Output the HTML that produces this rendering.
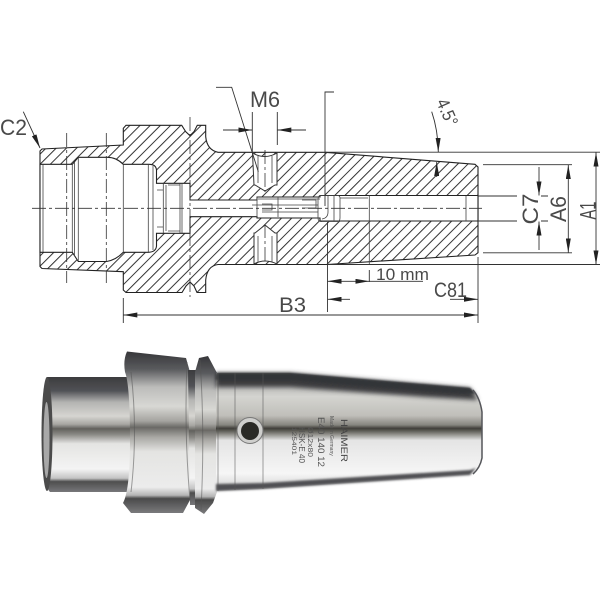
<!DOCTYPE html>
<html><head><meta charset="utf-8">
<style>html,body{margin:0;padding:0;background:#fff}svg{display:block}
text{font-family:"Liberation Sans",sans-serif;fill:#4a4a4a}</style></head>
<body>
<svg xmlns="http://www.w3.org/2000/svg" width="600" height="600" viewBox="0 0 600 600">
<defs>
<filter id="b0" x="-5%" y="-5%" width="110%" height="110%"><feGaussianBlur stdDeviation=".35"/></filter>
<filter id="b1" x="-5%" y="-30%" width="110%" height="160%"><feGaussianBlur stdDeviation="1"/></filter>
<filter id="b3" x="-5%" y="-40%" width="110%" height="180%"><feGaussianBlur stdDeviation="2.5"/></filter>
<pattern id="hh" width="7.2" height="7.2" patternUnits="userSpaceOnUse" patternTransform="rotate(-45)">
<rect width="7.2" height="7.2" fill="#fff"/><rect x="0" y="0" width="7.2" height="1" fill="#333"/>
</pattern>
<linearGradient id="g" x1="0" y1="0" x2="0" y2="1">
<stop offset="0" stop-color="#3c3c3e"/><stop offset=".12" stop-color="#515256"/><stop offset=".22" stop-color="#b4b4b2"/><stop offset=".34" stop-color="#d6d5d1"/><stop offset=".41" stop-color="#a8a7a3"/><stop offset=".45" stop-color="#62615d"/><stop offset=".5" stop-color="#8a8985"/><stop offset=".58" stop-color="#e4e4e2"/><stop offset=".8" stop-color="#f4f4f4"/><stop offset=".88" stop-color="#c4c4c4"/><stop offset=".91" stop-color="#4e4e4e"/><stop offset="1" stop-color="#77777a"/>
</linearGradient>
<linearGradient id="g2" x1="0" y1="0" x2="0" y2="1">
<stop offset="0" stop-color="#37373a"/><stop offset=".11" stop-color="#5a5b5e"/><stop offset=".22" stop-color="#bcbcba"/><stop offset=".34" stop-color="#d8d8d4"/><stop offset=".43" stop-color="#a5a4a0"/><stop offset=".47" stop-color="#6a6965"/><stop offset=".53" stop-color="#a8a7a3"/><stop offset=".62" stop-color="#e4e4e2"/><stop offset=".84" stop-color="#ececec"/><stop offset=".89" stop-color="#b4b4b4"/><stop offset=".91" stop-color="#4a4a4a"/><stop offset="1" stop-color="#7a7a7c"/>
</linearGradient>
<linearGradient id="t" x1="0" y1="0" x2="0" y2="1">
<stop offset="0" stop-color="#9a9a9a"/><stop offset=".2" stop-color="#d4d4d0"/><stop offset=".36" stop-color="#c0bfba"/><stop offset=".44" stop-color="#86857f"/><stop offset=".47" stop-color="#3f3e38"/><stop offset=".5" stop-color="#6e6d66"/><stop offset=".57" stop-color="#e4e4e4"/><stop offset=".85" stop-color="#f6f6f6"/><stop offset="1" stop-color="#d0d0d0"/>
</linearGradient>
<marker id="a" viewBox="0 0 14 5" markerWidth="14" markerHeight="5" refX="14" refY="2.5" orient="auto-start-reverse" markerUnits="userSpaceOnUse"><path d="M0 0L14 2.5L0 5Z" fill="#222"/></marker>
</defs>

<g filter="url(#b0)">
<!-- section -->
<path d="M40 151L42 149L123.3 145V128.3L126 125.3H181.7L185.7 131.7L190 135.7L194 131.7L197.3 125.3H205.7V136.7Q207 150 218 152.3H325L475 164.3L478 167V252.7L475 255L327 264.5H218Q207 266 205.7 280V292.5H197L194 286L190 282L186 286L182 292.5H126L123.3 290V271.7L42 268.5L40 266.5Z" fill="url(#hh)" stroke="#222" stroke-width="1.1"/>
<!-- bore -->
<path d="M40 164.3H72.3L78.3 157.3H106.7Q116 157 123.3 164.3H148.3Q156 164 156.5 170V183.3H190V200H257V197H320V195.5H478V221H320V218H257V216.7H190V233.3H156.5V246Q156 252 148.3 252.3H123.3Q116 260 106.7 261.5H78.3L72.3 252.3H40Z" fill="#fff" stroke="#222" stroke-width="1.1"/>
<!-- threaded holes -->
<path d="M252.5 153Q265 160 277 153V185H275L265 191L255 185H254Z" fill="#fff" stroke="#333" stroke-width="1"/>
<path d="M254 264Q265 258 277 264V233H275L265 225L255 233H254Z" fill="#fff" stroke="#333" stroke-width="1"/>
<g stroke="#444" stroke-width=".8" fill="none">
<path d="M43 164.5V252M72.3 164.5V252M74.5 162V256M78.3 157.5V261M123.3 164.5V252M148.3 164.5V252M153 166V250"/>
<path d="M163.3 183.5V233M166 185V231M168 185H180M168 231H180M180 183.5V233M182 183.5V233M157 190H163M157 227H163"/>
<path d="M257 197V217M278 197V217M258 199H320M252 205H318M262 212H318M262 204H272V210H262M302 200H316V208H302"/>
<path d="M320 195.5Q318 196 318 200V218Q318 222 322 221.5H338Q340 221 340 218V198Q340 196 338 195.5ZM334 196V221M328 196V212Q328 218 322 219M340 198H368M369.3 195.5V221M466 196V221"/>
<path d="M258 156V183M272 156V183M258 236V262M272 236V262"/>
<path d="M369.3 221V264"/>
</g>
<!-- centre lines -->
<g stroke="#333" stroke-width=".8" fill="none" stroke-dasharray="14 3 3 3">
<path d="M32 208.3H482"/>
<path d="M66.7 133V283M106.3 133V283M190 117V297M265 150V192M265 224V264"/>
</g>
<!-- dimension lines -->
<g stroke="#333" stroke-width=".9" fill="none">
<path d="M23.3 111.7L40 148" marker-end="url(#a)"/>
<path d="M216 87.3H231.7L258.3 171.7"/>
<path d="M252.3 112V152M277.3 112V145"/>
<path d="M223 130H252.3" marker-end="url(#a)"/>
<path d="M306 130H277.3" marker-end="url(#a)"/>
<path d="M334 92H325V206"/>
<path d="M327.5 222V312"/>
<path d="M325 152.2H600M327 264.5H600"/>
<path d="M483 164.7H572M483 252.8H572"/>
<path d="M478 196H517M541 196H548M478 221H517M541 221H548"/>
<path d="M539 167V195.5" marker-end="url(#a)"/>
<path d="M539 250V221.5" marker-end="url(#a)"/>
<path d="M568.3 208V165" marker-end="url(#a)"/>
<path d="M568.3 208V252.5" marker-end="url(#a)"/>
<path d="M596 208V152.5" marker-end="url(#a)"/>
<path d="M596 208V264.5" marker-end="url(#a)"/>
<path d="M431.7 111.7Q438 130 438.3 152" marker-end="url(#a)"/>
<path d="M436.7 177V162" marker-end="url(#a)"/>
<path d="M348 281.3H327.5" marker-end="url(#a)"/>
<path d="M348 281.3H369.3" marker-end="url(#a)"/>
<path d="M369.3 270V282M369.3 281.3H423"/>
<path d="M350 299.3H327.5" marker-end="url(#a)"/>
<path d="M450 299.3H478" marker-end="url(#a)"/>
<path d="M478 257V323"/>
<path d="M123.3 298V323"/>
<path d="M300 315H123.3" marker-end="url(#a)"/>
<path d="M300 315H478" marker-end="url(#a)"/>
</g>
<!-- labels -->
<g>
<text x="0" y="135" font-size="22" textLength="27" lengthAdjust="spacingAndGlyphs">C2</text>
<text x="250" y="107" font-size="22" textLength="30" lengthAdjust="spacingAndGlyphs">M6</text>
<text x="279" y="312" font-size="21" textLength="27" lengthAdjust="spacingAndGlyphs">B3</text>
<text x="434" y="297" font-size="21" textLength="33" lengthAdjust="spacingAndGlyphs">C81</text>
<text x="376" y="280" font-size="16.5" textLength="53" lengthAdjust="spacingAndGlyphs">10 mm</text>
<text transform="translate(538 224.5) rotate(-90)" font-size="22" textLength="31" lengthAdjust="spacingAndGlyphs">C7</text>
<text transform="translate(566 222) rotate(-90)" font-size="22" textLength="26" lengthAdjust="spacingAndGlyphs">A6</text>
<text transform="translate(595.5 219.5) rotate(-90)" font-size="22" textLength="18" lengthAdjust="spacingAndGlyphs">A1</text>
<text transform="translate(436 102) rotate(66)" font-size="18" textLength="28" lengthAdjust="spacingAndGlyphs">4.5°</text>
</g>

<!-- photo -->
<path d="M47 377H132V492H50Q43 486 42 434Q42 385 47 377Z" fill="url(#g)"/>
<ellipse cx="47" cy="434" rx="5.5" ry="57" fill="#4c4c4c"/>
<ellipse cx="46.5" cy="440" rx="3" ry="38" fill="#a8a8a8"/>
<path d="M127 351.5L186 358L190 372V500L183 513H131L123 503Q130 490 130 440Q130 385 125 372Q123 360 127 351.5Z" fill="url(#g2)"/>
<path d="M188 370H197V505H190Z" fill="url(#g)"/>
<path d="M199 358L208 356L217 373V492L213 503L204 514L195 508V372Z" fill="url(#g2)"/>
<path d="M216 373H290L470 388Q480 398 482 412V458Q480 468 470 475L262 489L216 491Z" fill="url(#t)"/>
<path d="M216 373H290L470 388L478 400L425 397L290 387L216 387Z" fill="#3a3b3e" filter="url(#b3)"/>
<path d="M216 373H290L470 388L476 394L425 391L290 380L216 380Z" fill="#333437" filter="url(#b1)"/>
<path d="M216 484L262 483L470 470L476 468L470 475L262 489L216 491Z" fill="#4f5052" filter="url(#b1)"/>
<path d="M473 390Q480 398 482 412V458Q480 468 473 474" fill="none" stroke="#55565a" stroke-width="1.5"/>
<g stroke="#555" fill="none" stroke-width="1" opacity=".55">
<path d="M131 372Q138 432 131 492M187 362Q184 432 190 500M200 360Q205 432 201 510M218 373V491M235 373V490M263 373V489"/>
</g>
<circle cx="250" cy="430.5" r="13" fill="#cfcfcd" stroke="#777" stroke-width="1"/>
<circle cx="250" cy="431" r="9" fill="#2b2a28"/>
<g>
<text transform="translate(341 419) rotate(90)" font-size="9.5" textLength="43" lengthAdjust="spacingAndGlyphs" style="fill:#444">HAIMER</text>
<text transform="translate(330 416) rotate(90)" font-size="5" style="fill:#555">Made in Germany</text>
<text transform="translate(318 417) rotate(90)" font-size="9.5" textLength="50" lengthAdjust="spacingAndGlyphs" style="fill:#555">E40 140 12</text>
<text transform="translate(308 427) rotate(90)" font-size="7.5" textLength="30" lengthAdjust="spacingAndGlyphs" style="fill:#555">Ø12x80</text>
<text transform="translate(299 427) rotate(90)" font-size="8.5" textLength="36" lengthAdjust="spacingAndGlyphs" style="fill:#555">HSK-E 40</text>
<text transform="translate(292 427) rotate(90)" font-size="6" textLength="28" lengthAdjust="spacingAndGlyphs" style="fill:#555">125401</text>
</g>
</g>
</svg>
</body></html>
